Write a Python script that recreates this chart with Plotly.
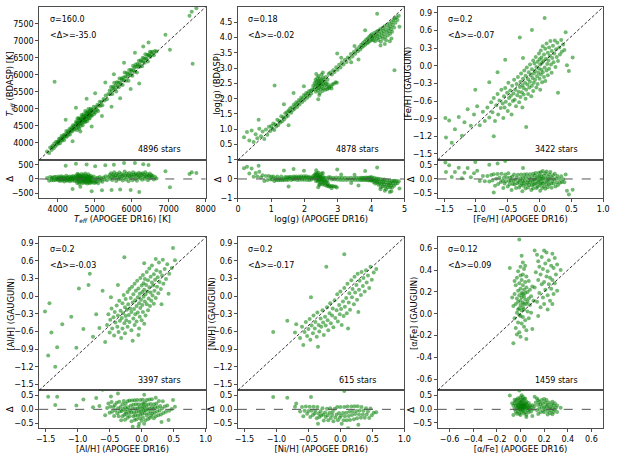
import plotly.graph_objects as go

# ---------------- DATA ----------------
# Teff: APOGEE DR16 (x) vs BDASP (y)
teff_apogee = [3712, 3768, 3795, 3833, 3861, 3889, 3907, 3936, 3958, 3974, 3991, 3846,
               4008, 4019, 4033, 4047, 4062, 4075, 4091, 4104, 4118, 4133, 4146, 4162,
               4177, 4189, 4204, 4218, 4231, 4247, 4259, 4274, 4288, 4303, 4316, 4331,
               4344, 4358, 4373, 4386, 4399, 4413, 4427, 4441, 4456, 4468, 4484,
               4502, 4509, 4516, 4524, 4531, 4538, 4546, 4553, 4561, 4569, 4576, 4584,
               4591, 4599, 4607, 4614, 4622, 4630, 4637, 4645, 4653, 4660, 4668, 4675,
               4683, 4691, 4698, 4706, 4713, 4721, 4729, 4736, 4744, 4752, 4759, 4767,
               4775, 4782, 4790, 4797, 4805, 4813, 4820, 4828, 4836, 4843, 4851, 4858,
               4866, 4874, 4881, 4889, 4897, 4904, 4912, 4927, 4943, 4958, 4974, 4989,
               5006, 5021, 5039, 5058, 5074, 5093, 5112, 5136, 5158, 5181, 5207, 5238,
               5266, 5297, 5331, 5368,
               5405, 5422, 5441, 5457, 5476, 5493, 5511, 5528, 5546, 5563, 5581, 5598,
               5616, 5633, 5651, 5669, 5686, 5704, 5721, 5739, 5756, 5774, 5791, 5809,
               5826, 5844, 5861, 5879, 5896, 5914, 5931, 5949, 5966, 5984, 6001, 6019,
               6036, 6054, 6071, 6089, 6106, 6124, 6141, 6159, 6176, 6194, 6211, 6229,
               6246, 6264, 6281, 6299, 6316, 6334, 6351, 6369, 6386, 6404, 6421, 6439,
               6456, 6474, 6491, 6509, 6527, 6544, 6571, 6598, 6632, 6671,
               3915, 7647, 7623, 7748, 6912, 7034, 4215, 4493, 4781, 5012, 5287, 5518,
               5793, 6087, 6312, 4402, 4918, 5196, 5688, 5972, 7562, 6455, 4611, 6203,
               5455]
teff_bdasp = [3745, 3702, 3861, 3790, 3912, 3840, 3978, 3901, 4033, 3952, 4008, 3873,
              4035, 3978, 4121, 4059, 3986, 4128, 4082, 4205, 4060, 4164, 4124, 4234,
              4083, 4197, 4250, 4185, 4346, 4180, 4278, 4338, 4240, 4306, 4408, 4246,
              4382, 4344, 4452, 4334, 4423, 4520, 4398, 4498, 4385, 4483, 4567,
              4634, 4445, 4537, 4381, 4608, 4727, 4518, 4599, 4464, 4720, 4580, 4413,
              4684, 4554, 4725, 4647, 4503, 4692, 4625, 4819, 4571, 4687, 4777, 4519,
              4734, 4654, 4841, 4703, 4605, 4805, 4745, 4667, 4941, 4621, 4798, 4746,
              4897, 4694, 4848, 4633, 4812, 4909, 4768, 4995, 4720, 4872, 4817, 4939,
              4717, 4918, 4808, 5001, 4879, 4807, 4975, 4801, 4965, 4897, 5063, 4850,
              4964, 4903, 5052, 4971, 5122, 4937, 5089, 5207, 5094, 5200, 5106, 5292,
              5249, 5393, 5286, 5436,
              5543, 5434, 5647, 5531, 5438, 5654, 5608, 5771, 5577, 5689, 5509, 5786,
              5675, 5775, 5640, 5896, 5769, 5718, 5897, 5847, 5702, 5925, 5837, 6071,
              5947, 5825, 6054, 5947, 6030, 5831, 6145, 6040, 5993, 6152, 6113, 5978,
              6273, 6133, 6217, 6092, 6304, 6242, 6074, 6318, 6240, 6415, 6308, 6251,
              6429, 6395, 6252, 6503, 6392, 6486, 6360, 6608, 6490, 6461, 6592, 6391,
              6584, 6560, 6683, 6533, 6668, 6611, 6684, 6576, 6703, 6689,
              5800, 6325, 7862, 7958, 7185, 6741, 4683, 5036, 5297, 5461, 5778, 6022,
              6361, 6652, 6838, 4047, 4483, 4792, 5314, 5583, 7741, 6951, 4338, 5744,
              5060]

# log(g): APOGEE DR16 (x) vs BDASP (y)
logg_apogee = [0.18, 0.27, 0.34, 0.41, 0.47, 0.53, 0.58, 0.64, 0.69, 0.74, 0.79, 0.84, 0.88, 0.93,
               0.97, 1.0, 1.03, 1.06, 1.09, 1.12, 1.15, 1.18, 1.21, 1.24, 1.27, 1.3, 1.33, 1.36,
               1.39, 1.42, 1.45, 1.47, 1.5, 1.52,
               1.55, 1.57, 1.6, 1.63, 1.65, 1.68, 1.7, 1.73, 1.75, 1.78, 1.8, 1.83, 1.85, 1.88,
               1.9, 1.93, 1.95, 1.98, 2.0, 2.03, 2.05, 2.08, 2.1, 2.13, 2.15, 2.18, 2.2, 2.23,
               2.26, 2.28, 2.3, 2.31, 2.33, 2.34, 2.35, 2.36, 2.37, 2.38, 2.39, 2.4, 2.41, 2.42,
               2.42, 2.43, 2.44, 2.45, 2.46, 2.46, 2.47, 2.48, 2.49, 2.5, 2.51, 2.52, 2.53, 2.54,
               2.55, 2.56, 2.57, 2.58, 2.6, 2.61, 2.62, 2.64, 2.65, 2.67, 2.69, 2.7, 2.72, 2.73,
               2.35, 2.55, 2.44,
               2.68, 2.74, 2.79, 2.83, 2.88, 2.93, 2.97, 2.81,
               2.77, 2.82, 2.86, 2.9, 2.95, 2.99, 3.04, 3.08, 3.12, 3.17, 3.21, 3.26, 3.3, 3.35,
               3.39, 3.44, 3.48, 3.52, 3.56, 3.6, 3.64, 3.67, 3.1, 3.4, 3.5,
               3.7, 3.72, 3.75, 3.77, 3.8, 3.82, 3.85, 3.87, 3.9, 3.91, 3.94, 3.96, 3.98, 4.0,
               4.02, 4.03, 4.05, 4.07, 4.09, 4.1, 4.12, 4.14, 4.16, 4.17, 4.19, 4.21, 4.22, 4.24,
               4.26, 4.27, 4.29, 4.31, 4.32, 4.34, 4.35, 4.37, 4.39, 4.4, 4.42, 4.43, 4.45, 4.47,
               4.48, 4.5, 4.52, 4.53, 4.55, 4.57, 4.58, 4.6, 4.62, 4.63, 4.65, 4.67, 4.69, 4.71,
               4.73, 4.76, 4.79, 4.83, 4.28, 4.41, 4.56,
               4.7, 1.1, 4.18, 3.82, 1.98, 1.67, 1.38, 2.98, 4.61, 2.41, 1.52, 3.62, 0.62, 4.85]
logg_bdasp = [0.74, 0.91, 0.63, 0.96, 0.58, 0.84, 0.71, 1.02, 0.77, 0.93, 0.68, 0.99, 0.82, 1.08,
              0.94, 1.11, 1.02, 1.19, 0.98, 1.16, 1.09, 1.31, 1.14, 1.27, 1.22, 1.43, 1.26, 1.39,
              1.33, 1.52, 1.41, 1.56, 1.44, 1.61,
              1.58, 1.69, 1.54, 1.72, 1.63, 1.81, 1.67, 1.78, 1.88, 1.73, 1.86, 1.96, 1.81, 1.93,
              2.04, 1.89, 2.01, 2.12, 1.96, 2.09, 2.19, 2.03, 2.16, 2.24, 2.1, 2.26, 2.17, 2.31,
              2.42, 2.29, 2.51, 2.38, 2.62, 2.23, 2.47, 2.56, 2.34, 2.68, 2.44, 2.27, 2.59, 2.49,
              2.74, 2.36, 2.55, 2.42, 2.66, 2.19, 2.51, 2.31, 2.61, 2.46, 2.79, 2.38, 2.57, 2.25,
              2.69, 2.48, 2.33, 2.63, 2.44, 2.55, 2.29, 2.71, 2.5, 2.39, 2.62, 2.47, 2.81, 2.34,
              2.81, 2.86, 2.12,
              2.31, 2.38, 2.41, 2.46, 2.49, 2.54, 2.52, 2.33,
              2.86, 2.79, 2.93, 2.87, 3.03, 2.95, 3.11, 3.02, 3.19, 3.12, 3.27, 3.2, 3.35, 3.31,
              3.46, 3.38, 3.53, 3.47, 3.62, 3.55, 3.69, 3.61, 3.34, 3.19, 3.72,
              3.76, 3.67, 3.81, 3.72, 3.87, 3.76, 3.93, 3.81, 3.97, 3.84, 4.02, 3.88, 4.07, 3.92,
              4.11, 3.96, 4.03, 3.91, 4.15, 4.01, 3.88, 4.09, 4.19, 3.97, 4.06, 4.22, 3.92, 4.12,
              4.01, 4.27, 3.86, 4.17, 4.06, 4.31, 3.96, 4.21, 4.11, 4.37, 4.01, 4.26, 3.91, 4.17,
              4.41, 4.07, 4.31, 4.21, 4.46, 4.12, 4.36, 4.27, 4.51, 4.19, 4.42, 4.57, 4.33, 4.62,
              4.48, 4.66, 4.57, 4.71, 3.74, 3.79, 3.88,
              2.93, 2.43, 4.78, 4.24, 2.41, 2.19, 1.82, 3.48, 3.97, 1.98, 1.13, 3.28, 1.31, 4.35]

# [Fe/H]: APOGEE DR16 (x) vs GAUGUIN (y)
feh_apogee = [-1.47, -1.42, -1.38, -1.33, -1.27, -1.22, -1.18, -1.13, -1.08, -1.03, -0.98, -0.94,
              -0.89, -0.86,
              -0.82, -0.79, -0.76, -0.74, -0.72, -0.7,
              -0.68, -0.66, -0.65, -0.63, -0.61, -0.6, -0.58, -0.57, -0.56, -0.55,
              -0.54, -0.53, -0.51, -0.5, -0.49, -0.48, -0.47, -0.46, -0.45, -0.44, -0.43, -0.42,
              -0.41, -0.4,
              -0.39, -0.38, -0.37, -0.36, -0.35, -0.34, -0.33, -0.32, -0.31, -0.3, -0.3, -0.29,
              -0.28, -0.27, -0.27, -0.26, -0.25, -0.25,
              -0.24, -0.23, -0.22, -0.22, -0.21, -0.2, -0.19, -0.18, -0.18, -0.17, -0.16, -0.15,
              -0.15, -0.14, -0.13, -0.12, -0.12, -0.11, -0.1, -0.1, -0.09, -0.09,
              -0.08, -0.07, -0.07, -0.06, -0.05, -0.05, -0.04, -0.03, -0.03, -0.02, -0.01, -0.01,
              0.0, 0.0, 0.01, 0.01, 0.02, 0.02, 0.03, 0.03, 0.04, 0.04, 0.05, 0.05,
              0.06, 0.07, 0.07, 0.08, 0.09, 0.09, 0.1, 0.11, 0.11, 0.12, 0.13, 0.13, 0.14, 0.15,
              0.15, 0.16, 0.17, 0.18, 0.19, 0.19,
              0.2, 0.21, 0.22, 0.23, 0.24, 0.25, 0.26, 0.27, 0.28, 0.29, 0.31, 0.32, 0.34, 0.35,
              0.37, 0.39,
              -0.26, 0.08, -0.54, -0.31, 0.41, 0.52, -0.21, -0.79, -1.01, 0.29, 0.46, -0.66,
              -1.48, -0.12, -0.72, 0.43]
feh_gauguin = [-1.22, -0.93, -1.31, -1.08, -0.87, -1.19, -0.96, -0.74, -1.02, -0.83, -0.69, -1.01,
               -0.78, -0.94,
               -0.71, -0.88, -0.62, -0.79, -0.55, -0.94,
               -0.67, -0.48, -0.83, -0.59, -0.72, -0.41, -0.64, -0.89, -0.52, -0.71,
               -0.38, -0.61, -0.46, -0.77, -0.29, -0.55, -0.66, -0.42, -0.51, -0.83, -0.34, -0.6,
               -0.47, -0.24,
               -0.58, -0.41, -0.69, -0.31, -0.5, -0.19, -0.44, -0.62, -0.36, -0.27, -0.53, -0.13,
               -0.45, -0.33, -0.71, -0.22, -0.49, -0.38,
               -0.08, -0.29, -0.56, -0.17, -0.41, -0.03, -0.32, -0.23, -0.48, -0.11, -0.37, 0.02,
               -0.27, -0.16, -0.52, -0.06, -0.34, -0.21, 0.09, -0.43, -0.13, -0.29,
               0.04, -0.24, -0.09, 0.15, -0.37, -0.02, -0.18, 0.07, -0.31, -0.12, 0.21, -0.05,
               -0.22, 0.11, -0.41, 0.02, -0.15, 0.26, -0.07, 0.14, -0.28, 0.05, 0.33, -0.11,
               0.08, -0.19, 0.19, -0.03, 0.29, -0.26, 0.12, -0.08, 0.38, 0.03, 0.22, -0.16, 0.09, 0.31,
               -0.05, 0.17, 0.42, 0.02, 0.25, -0.12,
               0.13, 0.34, 0.06, 0.21, 0.43, -0.02, 0.28, 0.15, 0.39, 0.08, 0.31, 0.19, 0.44, 0.24,
               0.36, 0.27,
               0.13, 0.81, 0.1, 0.48, 0.57, 0.14, -1.04, -0.28, -0.41, -0.46, -0.09, -0.11,
               -0.89, 0.61, -1.2, 0.01]

# [Al/H]: APOGEE DR16 (x) vs GAUGUIN (y)
alh_apogee = [-1.44, -1.51, -1.41, -1.32, -1.24, -0.98, -0.83, -0.27, 0.49, -0.81, -1.1, -0.91,
              -0.71, -0.76, -0.61, -0.66, -1.35, -1.46, -1.02, -0.57,
              -0.54, -0.52, -0.5, -0.49, -0.47, -0.46, -0.44, -0.43, -0.42, -0.41,
              -0.39, -0.38, -0.37, -0.36, -0.35, -0.34, -0.33, -0.32, -0.31, -0.3, -0.3, -0.29,
              -0.28, -0.27, -0.26, -0.26, -0.25, -0.25,
              -0.24, -0.23, -0.22, -0.22, -0.21, -0.2, -0.19, -0.19, -0.18, -0.17, -0.16, -0.16,
              -0.15, -0.14, -0.13, -0.13, -0.12, -0.11, -0.11, -0.1, -0.1, -0.09,
              -0.08, -0.08, -0.07, -0.06, -0.06, -0.05, -0.04, -0.04, -0.03, -0.03, -0.02, -0.02,
              -0.01, 0.0, 0.0, 0.01, 0.01, 0.02, 0.02, 0.03, 0.03, 0.04, 0.04, 0.05, 0.05, -0.05,
              0.06, 0.06, 0.07, 0.08, 0.08, 0.09, 0.1, 0.1, 0.11, 0.12, 0.12, 0.13, 0.14, 0.14,
              0.15, 0.16, 0.16, 0.17, 0.18, 0.19, 0.19, 0.2,
              0.21, 0.22, 0.23, 0.24, 0.25, 0.26, 0.27, 0.28, 0.29, 0.3, 0.32, 0.33, 0.34, 0.36,
              0.38, 0.4, 0.43, 0.47,
              0.31, 0.42, -0.14, 0.04, 0.22, 0.52, -0.48, -0.37]
alh_gauguin = [-0.12, -0.26, -0.62, -0.87, -0.48, 0.13, 0.19, 0.66, 0.82, 0.38, -0.35, -0.56,
               -0.31, -0.69, 0.09, -0.54, -1.2, -1.01, -0.88, -0.78,
               -0.49, -0.31, -0.62, -0.4, -0.21, -0.55, -0.36, -0.67, -0.27, -0.45,
               -0.16, -0.52, -0.33, -0.61, -0.08, -0.42, -0.25, -0.71, -0.37, -0.12, -0.55, -0.29,
               0.02, -0.46, -0.19, -0.63, -0.34, -0.05,
               -0.41, -0.23, 0.07, -0.52, -0.14, -0.32, 0.12, -0.44, -0.21, -0.03, -0.58, -0.27,
               0.16, -0.11, -0.38, 0.03, -0.22, -0.49, 0.21, -0.07, -0.31, 0.09,
               -0.17, -0.43, 0.26, -0.02, -0.28, 0.13, -0.12, -0.55, 0.04, -0.35, 0.31, -0.2,
               -0.06, 0.18, -0.41, 0.07, -0.15, 0.36, -0.27, -0.01, 0.22, -0.47, 0.11, -0.09, 0.29, -0.66,
               0.03, -0.33, 0.19, -0.14, 0.41, 0.08, -0.24, 0.27, -0.04, 0.15, 0.47, -0.17, 0.06, 0.33,
               -0.08, 0.23, 0.52, 0.01, 0.18, -0.13, 0.37, 0.09,
               0.28, -0.03, 0.44, 0.16, 0.32, 0.05, 0.57, 0.24, 0.41, 0.12, 0.35, 0.62, 0.21, 0.46,
               0.29, 0.54, 0.38, 0.48,
               -0.14, 0.04, -0.76, 0.56, 0.63, 0.61, -0.02, 0.19]

# [Ni/H]: APOGEE DR16 (x) vs GAUGUIN (y)
nih_apogee = [-0.63, -0.6, -0.58, -0.56, -0.54, -0.52, -0.5, -0.48, -0.47, -0.45, -0.43, -0.42,
              -0.4, -0.39, -0.37, -0.36, -0.34, -0.33, -0.31, -0.3, -0.28, -0.27, -0.26, -0.24,
              -0.23, -0.21, -0.2, -0.19, -0.17, -0.16, -0.15, -0.13, -0.12, -0.11, -0.09, -0.08,
              -0.06, -0.05, -0.04, -0.02, -0.01, 0.0, 0.01, 0.02, 0.04, 0.05, 0.06, 0.07,
              0.09, 0.1, 0.11, 0.13, 0.14, 0.15, 0.17, 0.18, 0.19, 0.21, 0.22, 0.23,
              0.25, 0.26, 0.27, 0.29, 0.3, 0.32, 0.33, 0.35, 0.36, 0.38, 0.4, 0.41,
              0.43, 0.45, 0.47, 0.49, 0.52, -0.69, -0.71, -0.83, -1.05, 0.06, -0.22, 0.56,
              -0.46, 0.12, -0.35, 0.28]
nih_gauguin = [-0.71, -0.52, -0.83, -0.61, -0.44, -0.68, -0.56, -0.39, -0.74, -0.5, -0.63, -0.33,
               -0.55, -0.44, -0.69, -0.28, -0.49, -0.6, -0.38, -0.52, -0.24, -0.45, -0.66, -0.35,
               -0.5, -0.19, -0.41, -0.58, -0.29, -0.12, -0.46, -0.33, -0.21, -0.53, -0.07, -0.37,
               -0.24, 0.03, -0.43, -0.15, -0.31, 0.08, -0.22, -0.49, -0.09, -0.34, 0.14, -0.18,
               -0.03, -0.29, 0.21, -0.11, 0.05, -0.23, 0.27, -0.02, 0.12, -0.14, 0.33, 0.06,
               0.19, -0.06, 0.38, 0.11, 0.26, 0.02, 0.41, 0.17, 0.31, 0.08, 0.44, 0.23,
               0.35, 0.14, 0.5, 0.28, 0.4, -0.48, -0.62, -0.42, -0.61, 0.71, 0.5, 0.46,
               -0.02, -0.55, -0.86, -0.27]

# [alpha/Fe]: APOGEE DR16 (x) vs GAUGUIN (y)
alpha_apogee = [-0.06, -0.05, -0.05, -0.04, -0.04, -0.04, -0.03, -0.03, -0.03, -0.02, -0.02, -0.02,
                -0.02, -0.01, -0.01, -0.01, -0.01, 0.0, 0.0, 0.0, 0.0, 0.0, 0.0, 0.01,
                0.01, 0.01, 0.01, 0.01, 0.02, 0.02, 0.02, 0.02, 0.02, 0.03, 0.03, 0.03,
                0.03, 0.03, 0.04, 0.04, 0.04, 0.04, 0.05, 0.05, 0.05, 0.05, 0.06, 0.06,
                0.06, 0.07, 0.07, 0.07, 0.08, 0.08, 0.09, 0.09, 0.1, 0.11, -0.07, 0.02,
                -0.03, 0.01, 0.05, -0.05, 0.04, 0.0, -0.01, 0.03, 0.02, -0.02,
                0.12, 0.13, 0.14, 0.15, 0.15, 0.16, 0.17, 0.17, 0.18, 0.18, 0.19, 0.19,
                0.2, 0.2, 0.21, 0.21, 0.22, 0.22, 0.23, 0.23, 0.24, 0.24, 0.25, 0.25,
                0.26, 0.26, 0.27, 0.27, 0.28, 0.28, 0.29, 0.29, 0.3, 0.31, 0.31, 0.14,
                0.23, 0.27, 0.16, 0.2,
                -0.01, -0.06, 0.1, 0.12, -0.09, 0.34, 0.15]
alpha_gauguin = [0.07, 0.18, -0.04, 0.26, 0.09, -0.13, 0.14, 0.33, 0.01, 0.21, -0.08, 0.11,
                 0.39, 0.05, 0.17, -0.17, 0.28, 0.12, -0.02, 0.23, 0.08, 0.43, -0.21, 0.15,
                 0.03, 0.31, -0.09, 0.19, 0.1, 0.26, -0.03, 0.36, 0.06, 0.16, -0.12, 0.22,
                 0.04, 0.41, 0.13, 0.29, -0.06, 0.19, 0.09, 0.34, -0.15, 0.24, 0.11, 0.02,
                 0.2, 0.14, 0.3, -0.04, 0.08, 0.22, 0.16, 0.01, 0.25, 0.12, 0.15, 0.47,
                 -0.19, 0.53, -0.23, 0.3, 0.44, 0.35, -0.01, 0.09, 0.18, 0.04,
                 0.24, 0.38, 0.11, 0.31, 0.48, 0.19, 0.36, 0.06, 0.27, 0.52, 0.15, 0.41,
                 0.29, 0.09, 0.46, 0.22, 0.34, 0.56, 0.17, 0.39, 0.27, 0.49, 0.12, 0.33,
                 0.44, 0.23, 0.55, 0.31, 0.18, 0.42, 0.28, 0.51, 0.36, 0.21, 0.45, 0.54,
                 0.04, 0.09, 0.43, 0.58,
                 0.68, -0.27, -0.14, 0.58, 0.42, 0.4, -0.02]

# axis ranges and tick values
teff_range = [3500, 8000]
teff_res_range = [-680, 680]
teff_xticks = [4000, 5000, 6000, 7000, 8000]
teff_yticks = [4000, 4500, 5000, 5500, 6000, 6500, 7000, 7500]
teff_rticks = [-500, 0, 500]

logg_range = [0, 5]
logg_res_range = [-1, 1]
logg_xticks = [0, 1, 2, 3, 4, 5]
logg_yticks = [0.5, 1.0, 1.5, 2.0, 2.5, 3.0, 3.5, 4.0, 4.5]
logg_rticks = [-1, 0, 1]

met_range = [-1.6, 1.0]
met_res_range = [-0.68, 0.68]
met_xticks = [-1.5, -1.0, -0.5, 0.0, 0.5, 1.0]
met_yticks = [-1.5, -1.2, -0.9, -0.6, -0.3, 0.0, 0.3, 0.6, 0.9]
met_rticks = [-0.5, 0.0, 0.5]

alpha_range = [-0.7, 0.7]
alpha_res_range = [-0.7, 0.7]
alpha_xticks = [-0.6, -0.4, -0.2, 0.0, 0.2, 0.4, 0.6]
alpha_yticks = [-0.6, -0.4, -0.2, 0.0, 0.2, 0.4, 0.6]
alpha_rticks = [-0.5, 0.0, 0.5]

sigma_labels = ["σ=160.0", "σ=0.18", "σ=0.2", "σ=0.2", "σ=0.2", "σ=0.12"]
mean_labels = ["&lt;Δ&gt;=-35.0", "&lt;Δ&gt;=-0.02", "&lt;Δ&gt;=-0.07",
               "&lt;Δ&gt;=-0.03", "&lt;Δ&gt;=-0.17", "&lt;Δ&gt;=0.09"]
star_labels = ["4896 stars", "4878 stars", "3422 stars",
               "3397 stars", "615 stars", "1459 stars"]
y_titles = ["<i>T</i><sub><i>eff</i></sub> (BDASP) [K]", "log(g) (BDASP)",
            "[Fe/H] (GAUGUIN)", "[Al/H] (GAUGUIN)", "[Ni/H] (GAUGUIN)",
            "[α/Fe] (GAUGUIN)"]
x_titles = ["<i>T</i><sub><i>eff</i></sub> (APOGEE DR16) [K]", "log(g) (APOGEE DR16)",
            "[Fe/H] (APOGEE DR16)", "[Al/H] (APOGEE DR16)", "[Ni/H] (APOGEE DR16)",
            "[α/Fe] (APOGEE DR16)"]
res_title = "Δ"

# ---------------- LAYOUT ----------------
W, H = 623, 456
COLS = [(37, 207), (240, 410), (444, 613)]
ROWS = [((3, 159), (159, 198)), ((238, 394), (394, 433))]
YTITLE_OFF = [29, 21, 30, 29, 27, 24]     # px left of the axis (main panels)
DTITLE_OFF = [30, 20, 27, 30, 27, 27]     # px left of the axis (residual panels)
FONT = dict(family="DejaVu Sans", size=8, color="black")
TITLE_FONT = dict(family="DejaVu Sans", size=8.4, color="black")
GREEN = "rgba(0,128,0,0.55)"
FRAME = "#4d4d4d"


def fmt(vals, kind, minus="−"):
    out = []
    for v in vals:
        s = f"{v:d}" if kind == "int" else f"{v:.1f}"
        out.append(s.replace("-", minus))
    return out


def sfx(n):
    return "" if n == 1 else str(n)


panels = [
    (teff_apogee, teff_bdasp, teff_range, teff_res_range, teff_xticks, teff_yticks, teff_rticks,
     "int", "int", "int", "−"),
    (logg_apogee, logg_bdasp, logg_range, logg_res_range, logg_xticks, logg_yticks, logg_rticks,
     "int", "f1", "int", "−"),
    (feh_apogee, feh_gauguin, met_range, met_res_range, met_xticks, met_yticks, met_rticks,
     "f1", "f1", "f1", "−"),
    (alh_apogee, alh_gauguin, met_range, met_res_range, met_xticks, met_yticks, met_rticks,
     "f1", "f1", "f1", "−"),
    (nih_apogee, nih_gauguin, met_range, met_res_range, met_xticks, met_yticks, met_rticks,
     "f1", "f1", "f1", "−"),
    (alpha_apogee, alpha_gauguin, alpha_range, alpha_res_range, alpha_xticks, alpha_yticks,
     alpha_rticks, "f1", "f1", "f1", "-"),
]

fig = go.Figure()
layout = dict(width=W, height=H, margin=dict(l=0, r=0, t=0, b=0),
              paper_bgcolor="white", plot_bgcolor="white", showlegend=False,
              font=FONT, shapes=[], annotations=[])

for i, (xs, ys, rng, rrng, xt, yt, rt, xk, yk, rk, yminus) in enumerate(panels):
    col = COLS[i % 3]
    (mt, mb), (rt_, rb) = ROWS[i // 3]
    xdom = [col[0] / W, col[1] / W]
    ydom_main = [1 - mb / H, 1 - mt / H]
    ydom_res = [1 - rb / H, 1 - rt_ / H]
    m, r = sfx(2 * i + 1), sfx(2 * i + 2)
    delta = [y - x for x, y in zip(xs, ys)]

    fig.add_trace(go.Scatter(x=xs, y=ys, mode="markers", xaxis=f"x{m}", yaxis=f"y{m}",
                             marker=dict(size=4, color=GREEN, line=dict(width=0)),
                             hoverinfo="skip"))
    fig.add_trace(go.Scatter(x=xs, y=delta, mode="markers", xaxis=f"x{r}", yaxis=f"y{r}",
                             marker=dict(size=4, color=GREEN, line=dict(width=0)),
                             hoverinfo="skip"))

    common = dict(showline=True, linecolor=FRAME, linewidth=1, mirror=True,
                  showgrid=False, zeroline=False, tickfont=FONT,
                  ticks="outside", ticklen=3, tickcolor=FRAME)
    layout[f"xaxis{m}"] = dict(common, domain=xdom, range=rng, anchor=f"y{m}",
                               showticklabels=False, ticks="")
    layout[f"yaxis{m}"] = dict(common, domain=ydom_main, range=rng, anchor=f"x{m}",
                               tickvals=yt, ticktext=fmt(yt, yk, yminus))
    layout[f"xaxis{r}"] = dict(common, domain=xdom, range=rng, anchor=f"y{r}",
                               tickvals=xt, ticktext=fmt(xt, xk),
                               title=dict(text=x_titles[i], font=TITLE_FONT, standoff=2))
    layout[f"yaxis{r}"] = dict(common, domain=ydom_res, range=rrng, anchor=f"x{r}",
                               tickvals=rt, ticktext=fmt(rt, rk))

    # vertical axis titles (placed next to each panel)
    layout["annotations"].append(dict(text=y_titles[i], xref="paper", yref="paper",
                                      x=(col[0] - YTITLE_OFF[i]) / W,
                                      y=sum(ydom_main) / 2, textangle=-90,
                                      xanchor="center", yanchor="middle",
                                      showarrow=False, font=TITLE_FONT))
    layout["annotations"].append(dict(text=res_title, xref="paper", yref="paper",
                                      x=(col[0] - DTITLE_OFF[i]) / W,
                                      y=sum(ydom_res) / 2, textangle=-90,
                                      xanchor="center", yanchor="middle",
                                      showarrow=False, font=TITLE_FONT))

    # one-to-one line and zero line
    layout["shapes"].append(dict(type="line", xref=f"x{m} domain", yref=f"y{m} domain",
                                 x0=0, y0=0, x1=1, y1=1,
                                 line=dict(color="black", width=0.8, dash="3px,2px")))
    layout["shapes"].append(dict(type="line", xref=f"x{r} domain", yref=f"y{r}",
                                 x0=0, y0=0, x1=1, y1=0,
                                 line=dict(color="#555555", width=1, dash="dash")))

    for txt, xx, yy, xa in [(sigma_labels[i], 0.05, 0.92, "left"),
                            (mean_labels[i], 0.05, 0.815, "left"),
                            (star_labels[i], 0.72, 0.065, "center")]:
        layout["annotations"].append(dict(text=txt, xref=f"x{m} domain", yref=f"y{m} domain",
                                          x=xx, y=yy, xanchor=xa, yanchor="middle",
                                          showarrow=False, font=FONT))

fig.update_layout(**layout)
fig.write_html("out.html", config={"displayModeBar": False},
               post_script="document.body.style.margin='0px';")
